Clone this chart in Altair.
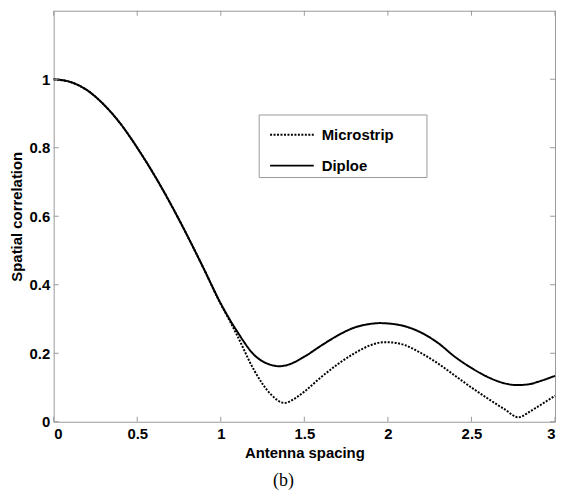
import altair as alt
import pandas as pd

# ---- data ----
dip_x = [0, 0.1, 0.2, 0.3, 0.4, 0.5, 0.6, 0.7, 0.8, 0.9, 1.0, 1.1, 1.2, 1.3, 1.35, 1.4, 1.5, 1.6,
         1.7, 1.8, 1.9, 1.95, 2.0, 2.1, 2.2, 2.3, 2.4, 2.5, 2.6, 2.7, 2.77, 2.85, 2.9, 3.0]
dip_y = [1.0, 0.992, 0.968, 0.926, 0.87, 0.80, 0.722, 0.636, 0.543, 0.445, 0.345, 0.262, 0.195, 0.166,
         0.162, 0.166, 0.19, 0.222, 0.252, 0.275, 0.286, 0.288, 0.287, 0.279, 0.26, 0.23, 0.19,
         0.157, 0.13, 0.112, 0.107, 0.11, 0.117, 0.134]
mic_x = [0, 0.1, 0.2, 0.3, 0.4, 0.5, 0.6, 0.7, 0.8, 0.9, 1.0, 1.05, 1.1, 1.2, 1.3, 1.38, 1.45, 1.5,
         1.6, 1.7, 1.8, 1.9, 1.97, 2.0, 2.1, 2.2, 2.3, 2.4, 2.5, 2.6, 2.7, 2.78, 2.85, 2.9, 3.0]
mic_y = [1.0, 0.992, 0.968, 0.926, 0.87, 0.80, 0.722, 0.636, 0.543, 0.445, 0.343, 0.298, 0.25, 0.15,
         0.08, 0.055, 0.07, 0.088, 0.13, 0.168, 0.2, 0.224, 0.232, 0.232, 0.224, 0.2, 0.17, 0.135,
         0.1, 0.067, 0.036, 0.013, 0.03, 0.045, 0.076]
series_names = ["Microstrip", "Diploe"]
x_ticks = [0, 0.5, 1, 1.5, 2, 2.5, 3]
y_ticks = [0, 0.2, 0.4, 0.6, 0.8, 1.0]
x_title = "Antenna spacing"
y_title = "Spatial correlation"
caption = "(b)"

W, H = 505, 414
FONT = "Liberation Sans"

df = pd.concat([
    pd.DataFrame({"x": mic_x, "y": mic_y, "s": series_names[0]}),
    pd.DataFrame({"x": dip_x, "y": dip_y, "s": series_names[1]}),
])

xs = alt.Scale(domain=[0, 3], nice=False, zero=False)
ys = alt.Scale(domain=[0, 1.2], nice=False, zero=False)
x_axis = alt.Axis(values=x_ticks, format="~g", tickSize=0, labelPadding=5, title=x_title,
                  titlePadding=4, domain=False, grid=False)
y_axis = alt.Axis(values=y_ticks, format="~g", tickSize=0, labelPadding=4, title=y_title,
                  titlePadding=5, domain=False, grid=False)

# legend frame (a decoration behind the legend entries)
legend_box = alt.Chart(pd.DataFrame({"k": [0]})).mark_rect(
    fill="white", stroke="#999", strokeWidth=1
).encode(x=alt.value(207), x2=alt.value(376), y=alt.value(105), y2=alt.value(168))

lines = alt.Chart(df).mark_line(color="black", strokeWidth=2, interpolate="monotone").encode(
    x=alt.X("x:Q", scale=xs, axis=x_axis, title=x_title),
    y=alt.Y("y:Q", scale=ys, axis=y_axis, title=y_title),
    strokeDash=alt.StrokeDash(
        "s:N",
        scale=alt.Scale(domain=series_names, range=[[2, 1.5], [1, 0]]),
        legend=alt.Legend(orient="none", legendX=207, legendY=100, title=None,
                          symbolType="stroke", symbolSize=1936, symbolStrokeWidth=2,
                          symbolStrokeColor="black", symbolOffset=8,
                          labelFont=FONT, labelFontWeight="bold",
                          labelFontSize=15, labelColor="black", labelOffset=7,
                          padding=2, rowPadding=0),
    ),
)

xt = pd.DataFrame({"x": x_ticks})
yt = pd.DataFrame({"y": y_ticks})
tick_len = 5
bottom_ticks = alt.Chart(xt).mark_rule(color="#999").encode(
    x=alt.X("x:Q", scale=xs, axis=x_axis, title=x_title), y=alt.value(H), y2=alt.value(H - tick_len))
top_ticks = alt.Chart(xt).mark_rule(color="#999").encode(
    x=alt.X("x:Q", scale=xs, axis=x_axis, title=x_title), y=alt.value(0), y2=alt.value(tick_len))
left_ticks = alt.Chart(yt).mark_rule(color="#999").encode(
    y=alt.Y("y:Q", scale=ys, axis=y_axis, title=y_title), x=alt.value(0), x2=alt.value(tick_len))
right_ticks = alt.Chart(yt).mark_rule(color="#999").encode(
    y=alt.Y("y:Q", scale=ys, axis=y_axis, title=y_title), x=alt.value(W), x2=alt.value(W - tick_len))

chart = alt.layer(lines, bottom_ticks, top_ticks, left_ticks, right_ticks, legend_box).properties(
    width=W, height=H,
    autosize=alt.AutoSizeParams(type="none"),
    padding={"left": 46, "top": 1, "right": 2, "bottom": 70},
    title=alt.TitleParams(caption, orient="bottom", font="Liberation Serif", fontSize=18,
                          fontWeight="normal", color="black", anchor="middle", dx=-21, offset=12),
).configure_view(stroke="#999", strokeWidth=1).configure_axis(
    labelFont=FONT, labelFontSize=15, labelFontWeight="bold", labelColor="black",
    titleFont=FONT, titleFontSize=15, titleFontWeight="bold", titleColor="black",
).configure_legend(strokeColor="transparent", fillColor="transparent")

chart.save("out.html", embed_options={"renderer": "svg", "actions": False})
